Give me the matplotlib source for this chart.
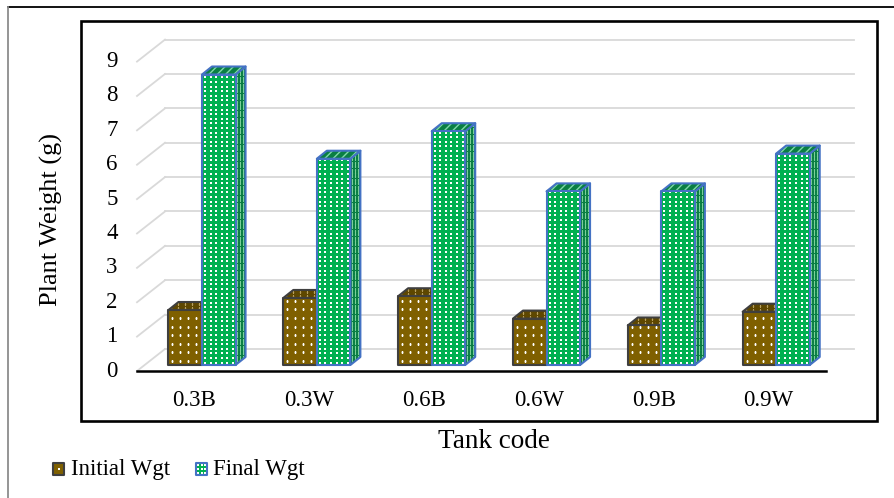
import matplotlib
matplotlib.use("Agg")
import matplotlib.pyplot as plt
import numpy as np
from matplotlib.patches import Polygon, Rectangle
from matplotlib.lines import Line2D
from matplotlib.transforms import IdentityTransform

# ---- data -------------------------------------------------------------
categories = ["0.3B", "0.3W", "0.6B", "0.6W", "0.9B", "0.9W"]
initial_wgt = [1.6, 1.95, 2.0, 1.35, 1.15, 1.55]
final_wgt = [8.45, 6.0, 6.8, 5.05, 5.05, 6.15]
y_ticks = list(range(0, 10))
series_names = ["Initial Wgt", "Final Wgt"]

# ---- figure -----------------------------------------------------------
W, H, DPI = 894, 498, 100
SERIF = ['Liberation Serif', 'DejaVu Serif']
plt.rcParams['font.family'] = SERIF
fig = plt.figure(figsize=(W / DPI, H / DPI), dpi=DPI)

# front plane of the 3-D plot box (category units x value units)
ax = fig.add_axes([137 / W, 1 - 371 / H, (826 - 137) / W, (371 - 61.6) / H])
ax.set_xlim(0, len(categories))
ax.set_ylim(0, 9)
ax.axis('off')
fig.canvas.draw()

DEPTH = np.array([28.0, 22.0])        # full floor depth in pixels
BAR_FRONT = np.array([7.6, 6.0])      # depth offset of bar front faces
BAR_BACK = np.array([17.6, 14.0])     # depth offset of bar back faces
BW = 0.292                            # bar width in category units

ident = IdentityTransform()


def proj(x, v, off=(0.0, 0.0)):
    p = ax.transData.transform((x, v))
    return p + np.asarray(off)


def line(p0, p1, **kw):
    fig.add_artist(Line2D([p0[0], p1[0]], [p0[1], p1[1]], transform=ident, **kw))


def dots(poly, pattern, z):
    """Dot texture clipped to a face."""
    if pattern is None:
        return
    sx, sy, ms, ox, oy, col = pattern
    pts = np.asarray(poly.get_xy())
    xmin, ymin = pts.min(axis=0)
    xmax, ymax = pts.max(axis=0)
    gx = np.arange(xmin + ox, xmax, sx)
    gy = np.arange(ymin + oy, ymax, sy)
    X, Y = np.meshgrid(gx, gy)
    ln = Line2D(X.ravel(), Y.ravel(), transform=ident, linestyle='none',
                marker='s', markersize=ms, markerfacecolor=col,
                markeredgewidth=0, zorder=z)
    fig.add_artist(ln)
    ln.set_clip_path(poly)


def face(pts, color, pattern, edge, lw, z, stripes=False):
    base = Polygon(pts, closed=True, facecolor=color, edgecolor='none',
                   transform=ident, zorder=z)
    fig.add_artist(base)
    dots(base, pattern, z)
    if stripes:
        fig.add_artist(Polygon(pts, closed=True, facecolor='none', edgecolor='#7fd9a8',
                               hatch='////', linewidth=0, transform=ident, zorder=z))
    fig.add_artist(Polygon(pts, closed=True, facecolor='none', edgecolor=edge,
                           linewidth=lw, transform=ident, zorder=z, joinstyle='round'))


# ---- walls and gridlines ----------------------------------------------
grid_c = '#d9d9d9'
n = len(categories)
for v in y_ticks:
    line(proj(0, v, DEPTH), proj(n, v, DEPTH), color=grid_c, lw=1.3, zorder=1)
    line(proj(0, v), proj(0, v, DEPTH), color=grid_c, lw=1.3, zorder=1)

# front category axis
line(proj(0, 0), proj(n, 0), color='black', lw=1.8, zorder=5)

# ---- 3-D columns --------------------------------------------------------
# dot pattern: (x step, y step, marker size pt, x offset, y offset, colour)
styles = [
    dict(front='#7F6000', side='#5E4700', top='#5E4700', edge='#3F3F3F',
         pf=(8.0, 8.6, 1.4, 4.0, 4.0, 'white'), ps=None,
         pt=(7.0, 4.0, 1.0, 3.0, 2.0, '#b8a060'), stripes=False),
    dict(front='#00B050', side='#0A7F43', top='#0A7F43', edge='#4472C4',
         pf=(5.6, 4.6, 1.6, 3.0, 2.5, 'white'),
         ps=(3.0, 3.4, 0.8, 1.5, 1.5, '#7ccf9c'), pt=None,
         stripes=True),
]


def column(x0, x1, v, st, z):
    fl, fr = proj(x0, 0, BAR_FRONT), proj(x1, 0, BAR_FRONT)
    tl, tr = proj(x0, v, BAR_FRONT), proj(x1, v, BAR_FRONT)
    br_b, br_t = proj(x1, 0, BAR_BACK), proj(x1, v, BAR_BACK)
    bl_t = proj(x0, v, BAR_BACK)
    face([fr, br_b, br_t, tr], st['side'], st['ps'], st['edge'], 1.5, z)
    face([tl, tr, br_t, bl_t], st['top'], st['pt'], st['edge'], 1.5, z,
         stripes=st['stripes'])
    face([fl, fr, tr, tl], st['front'], st['pf'], st['edge'], 1.5, z)


for i in range(n):
    c = i + 0.5
    column(c - BW, c, initial_wgt[i], styles[0], 3)
    column(c, c + BW, final_wgt[i], styles[1], 4)

# ---- tick labels ---------------------------------------------------------
for v in y_ticks:
    ax.annotate(str(v), xy=(0, v), xytext=(-25, 0), textcoords='offset pixels',
                ha='center', va='center', fontsize=16.5, family=SERIF,
                annotation_clip=False)
for i, lab in enumerate(categories):
    ax.annotate(lab, xy=(i + 0.5, 0), xytext=(0, -29), textcoords='offset pixels',
                ha='center', va='center', fontsize=16.5, family=SERIF,
                annotation_clip=False)

# axis titles
fig.text(494 / W, 1 - 441 / H, "Tank code", ha='center', va='center',
         fontsize=19.5, family=SERIF)
fig.text(51 / W, 1 - 219 / H, "Plant Weight (g)", ha='center', va='center',
         rotation=90, fontsize=19, family=SERIF)

# ---- legend ---------------------------------------------------------------
leg_items = [(53, 71, styles[0], (5.5, 6.0, 1.6, 5.5, 6.0, 'white')),
             (196, 213, styles[1], (3.7, 4.0, 1.6, 2.0, 2.0, 'white'))]
for (sx, tx, st, pat), name in zip(leg_items, series_names):
    x0, y0 = sx, H - 475
    sq = [(x0, y0), (x0 + 11, y0), (x0 + 11, y0 + 12), (x0, y0 + 12)]
    face(sq, st['front'], pat, st['edge'], 1.5, 6)
    fig.text(tx / W, 1 - 469 / H, name, ha='left', va='center', fontsize=16.5,
             family=SERIF)

# ---- frames ----------------------------------------------------------------
fig.add_artist(Rectangle((81 / W, 1 - 421 / H), (877 - 81) / W, (421 - 21) / H,
                         transform=fig.transFigure, fill=False, edgecolor='black',
                         linewidth=1.9, zorder=7))
fig.add_artist(Line2D([8 / W, 1], [1 - 7 / H, 1 - 7 / H], transform=fig.transFigure,
                      color='black', lw=1.3, zorder=7))
fig.add_artist(Line2D([8 / W, 8 / W], [0, 1 - 7 / H], transform=fig.transFigure,
                      color='#8c8c8c', lw=1.3, zorder=7))

fig.savefig("out.png", dpi=DPI)
